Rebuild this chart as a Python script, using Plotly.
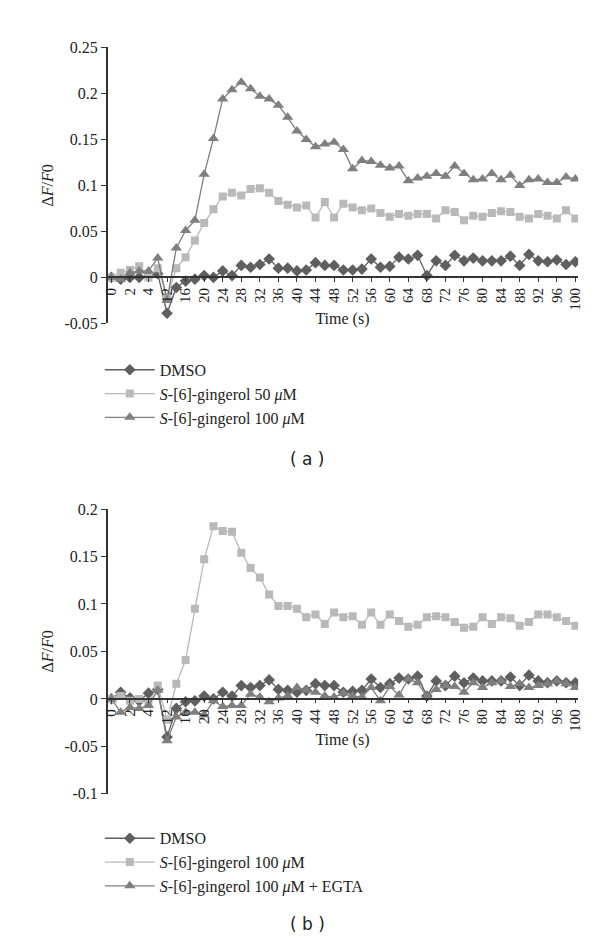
import plotly.graph_objects as go

times = [0, 1, 2, 3, 4, 8] + list(range(12, 101, 2))
cats = [str(t) for t in times]
tick_labels = cats[::2]

a_dmso = [0, -0.002, 0, 0, 0.001, 0.004, -0.039, -0.011, -0.004, -0.002, 0.002, 0, 0.007, 0.002, 0.013, 0.011, 0.014, 0.020, 0.010, 0.010, 0.007, 0.008, 0.016, 0.013, 0.013, 0.008, 0.008, 0.009, 0.020, 0.011, 0.012, 0.022, 0.020, 0.024, 0.002, 0.018, 0.013, 0.024, 0.018, 0.021, 0.018, 0.018, 0.018, 0.023, 0.013, 0.025, 0.018, 0.017, 0.019, 0.014, 0.017]
a_50 = [0, 0.005, 0.008, 0.012, 0, 0.010, -0.021, 0.010, 0.022, 0.040, 0.059, 0.074, 0.088, 0.092, 0.089, 0.096, 0.097, 0.092, 0.083, 0.079, 0.076, 0.078, 0.065, 0.082, 0.065, 0.080, 0.076, 0.073, 0.075, 0.070, 0.066, 0.069, 0.067, 0.069, 0.069, 0.064, 0.073, 0.071, 0.062, 0.067, 0.066, 0.070, 0.072, 0.071, 0.066, 0.064, 0.069, 0.067, 0.064, 0.073, 0.064]
a_100 = [0, -0.002, 0.005, 0.007, 0.007, 0.021, -0.025, 0.032, 0.051, 0.062, 0.112, 0.151, 0.194, 0.204, 0.212, 0.205, 0.197, 0.194, 0.187, 0.174, 0.159, 0.150, 0.142, 0.145, 0.147, 0.139, 0.118, 0.127, 0.126, 0.122, 0.119, 0.121, 0.105, 0.108, 0.110, 0.113, 0.110, 0.121, 0.113, 0.106, 0.107, 0.113, 0.106, 0.111, 0.100, 0.106, 0.107, 0.103, 0.103, 0.109, 0.107]

b_dmso = [0, 0.007, 0.001, -0.002, 0.006, 0.010, -0.040, -0.010, -0.003, -0.002, 0.003, 0, 0.007, 0.003, 0.014, 0.012, 0.014, 0.020, 0.010, 0.009, 0.007, 0.009, 0.016, 0.014, 0.014, 0.007, 0.008, 0.009, 0.021, 0.012, 0.016, 0.022, 0.021, 0.024, 0.003, 0.019, 0.014, 0.024, 0.017, 0.022, 0.019, 0.019, 0.019, 0.023, 0.014, 0.025, 0.019, 0.017, 0.019, 0.017, 0.017]
b_100 = [0, 0.003, -0.002, 0, -0.005, 0.014, -0.022, 0.016, 0.041, 0.095, 0.147, 0.182, 0.177, 0.176, 0.154, 0.138, 0.128, 0.110, 0.098, 0.098, 0.095, 0.086, 0.089, 0.079, 0.091, 0.086, 0.087, 0.078, 0.091, 0.078, 0.089, 0.082, 0.076, 0.078, 0.086, 0.087, 0.086, 0.081, 0.075, 0.076, 0.086, 0.079, 0.086, 0.085, 0.077, 0.081, 0.089, 0.089, 0.086, 0.082, 0.077]
b_egta = [0, -0.014, -0.009, -0.010, -0.007, 0.009, -0.044, -0.019, -0.014, -0.014, -0.017, -0.002, -0.008, -0.007, -0.007, 0.005, 0.002, -0.003, 0.001, 0.003, 0.012, 0.009, 0.007, 0.003, 0.002, 0.006, 0.003, 0.002, 0.012, -0.002, 0.013, 0.004, 0.021, 0.017, 0.003, 0.010, 0.014, 0.013, 0.007, 0.017, 0.012, 0.017, 0.019, 0.013, 0.016, 0.012, 0.014, 0.016, 0.019, 0.016, 0.012]

C_D, C_S, C_T = "#5f5f5f", "#b9b9b9", "#7f7f7f"
FONT = "Liberation Serif"

fig = go.Figure()

def add(y, name, color, symbol, xa, ya, legend, size):
    fig.add_trace(go.Scatter(x=cats, y=y, name=name, mode="lines+markers",
                             line=dict(color=color, width=1.3),
                             marker=dict(color=color, symbol=symbol, size=size),
                             xaxis=xa, yaxis=ya, legend=legend))

add(a_dmso, "DMSO", C_D, "diamond", "x", "y", "legend", 9)
add(a_50, "<i>S</i>-[6]-gingerol 50 <i>μ</i>M", C_S, "square", "x", "y", "legend", 8)
add(a_100, "<i>S</i>-[6]-gingerol 100 <i>μ</i>M", C_T, "triangle-up", "x", "y", "legend", 10)
add(b_dmso, "DMSO", C_D, "diamond", "x2", "y2", "legend2", 9)
add(b_100, "<i>S</i>-[6]-gingerol 100 <i>μ</i>M", C_S, "square", "x2", "y2", "legend2", 8)
add(b_egta, "<i>S</i>-[6]-gingerol 100 <i>μ</i>M + EGTA", C_T, "triangle-up", "x2", "y2", "legend2", 10)

xdom = [0.1617, 0.958]
ya_dom = [0.6709, 0.9664]
yb_dom = [0.1672, 0.4721]

def xaxis(pos):
    return dict(domain=xdom, type="category", categoryorder="array", categoryarray=cats,
                tickmode="array", tickvals=tick_labels, ticktext=tick_labels, tickangle=-90,
                anchor="free", position=pos, showline=True, linecolor="#333", linewidth=1.5,
                ticks="outside", ticklen=4, tickcolor="#333", showgrid=False, zeroline=False,
                range=[-0.5, 50.3], tickfont=dict(size=15, family=FONT, color="#222"),
                title=dict(text="Time (s)", font=dict(size=16, family=FONT, color="#222"), standoff=2))

a_vals = [-0.05, 0, 0.05, 0.1, 0.15, 0.2, 0.25]
a_text = ["-0.05", "0", "0.05", "0.1", "0.15", "0.2", "0.25"]
b_vals = [-0.1, -0.05, 0, 0.05, 0.1, 0.15, 0.2]
b_text = ["-0.1", "-0.05", "0", "0.05", "0.1", "0.15", "0.2"]

def yaxis(dom, rng, vals, text):
    return dict(domain=dom, range=rng, tickmode="array", tickvals=vals, ticktext=text,
                showline=True, linecolor="#333", linewidth=1.5, ticks="outside", ticklen=5,
                tickcolor="#333", showgrid=False, zeroline=False, anchor="free", position=0.1617,
                tickfont=dict(size=16, family=FONT, color="#222"),
                title=dict(text="Δ<i>F</i>/<i>F</i>0", font=dict(size=16, family=FONT, color="#222"), standoff=6))

legfont = dict(size=16, family=FONT, color="#222")
fig.update_layout(
    width=600, height=951, margin=dict(l=0, r=0, t=0, b=0),
    paper_bgcolor="white", plot_bgcolor="white", showlegend=True,
    font=dict(family=FONT, color="#222"),
    xaxis=xaxis(0.7203),
    yaxis=yaxis(ya_dom, [-0.05, 0.25], a_vals, a_text),
    xaxis2=xaxis(0.2692),
    yaxis2=yaxis(yb_dom, [-0.1, 0.2], b_vals, b_text),
    legend=dict(x=0.15, y=1 - 343 / 951, xanchor="left", yanchor="top",
                font=legfont, tracegroupgap=0, itemwidth=50),
    legend2=dict(x=0.15, y=1 - 820 / 951, xanchor="left", yanchor="top",
                 font=legfont, tracegroupgap=0, itemwidth=50),
    annotations=[
        dict(text="( a )", x=0.5, y=1 - 451 / 951, xref="paper", yref="paper", showarrow=False,
             font=dict(size=17, family="DejaVu Sans", color="#222")),
        dict(text="( b )", x=0.5, y=1 - 937 / 951, xref="paper", yref="paper", showarrow=False,
             font=dict(size=17, family="DejaVu Sans", color="#222")),
    ],
)
fig.write_html("out.html")
